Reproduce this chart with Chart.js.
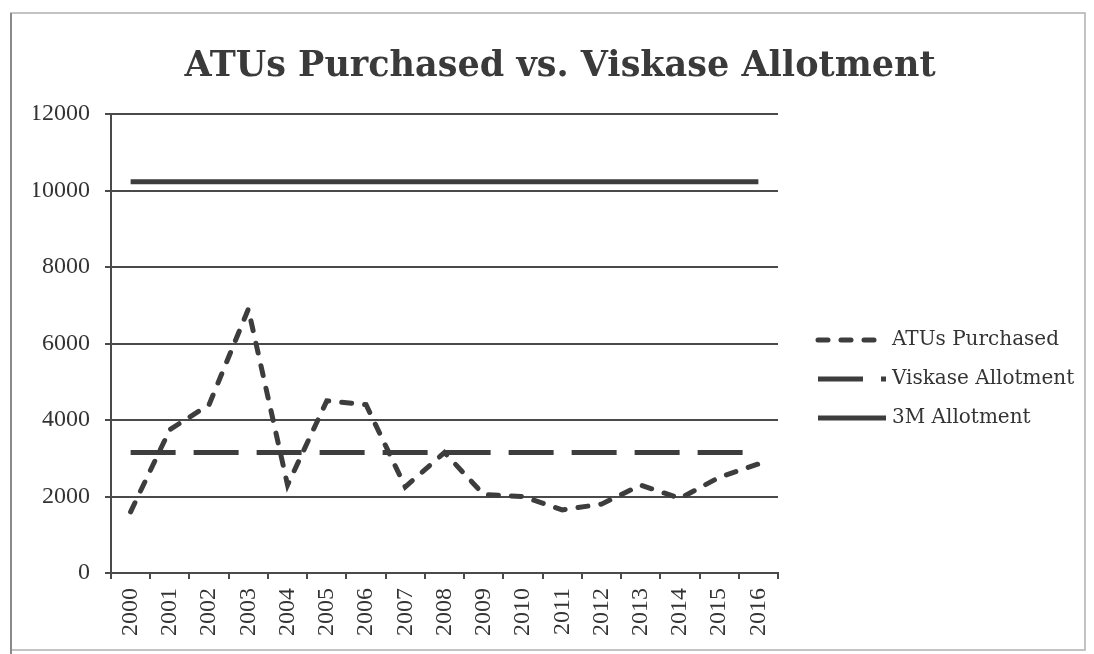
<!DOCTYPE html>
<html>
<head>
<meta charset="utf-8">
<script src="https://cdn.jsdelivr.net/npm/chart.js@4/dist/chart.umd.min.js"></script>
<style>
  html, body { margin: 0; padding: 0; background: #ffffff; }
  #wrap { width: 1094px; height: 654px; position: relative; }
</style>
</head>
<body>
<div id="wrap"><canvas id="c" width="1094" height="654"></canvas></div>
<script>
const years = ['2000','2001','2002','2003','2004','2005','2006','2007','2008','2009','2010','2011','2012','2013','2014','2015','2016'];
const atusPurchased = [1600, 3750, 4400, 6900, 2300, 4500, 4400, 2250, 3150, 2050, 2000, 1650, 1800, 2300, 1950, 2500, 2850];
const viskaseAllotment = [3150, 3150, 3150, 3150, 3150, 3150, 3150, 3150, 3150, 3150, 3150, 3150, 3150, 3150, 3150, 3150, 3150];
const mmmAllotment = [10230, 10230, 10230, 10230, 10230, 10230, 10230, 10230, 10230, 10230, 10230, 10230, 10230, 10230, 10230, 10230, 10230];
const yMin = 0, yMax = 12000, yStep = 2000;
const seriesNames = ['ATUs Purchased', 'Viskase Allotment', '3M Allotment'];
const chartTitle = 'ATUs Purchased vs. Viskase Allotment';

const INK = '#3d3d3d';
const GRID = '#4a4a4a';
const TICK_FONT = '"Liberation Serif", "Times New Roman", Times, serif';
const LEGEND_FONT = '"DejaVu Serif", serif';

const framePlugin = {
  id: 'frame',
  beforeDraw(chart) {
    const ctx = chart.ctx;
    ctx.save();
    ctx.fillStyle = '#ffffff';
    ctx.fillRect(0, 0, chart.width, chart.height);
    ctx.strokeStyle = '#b0b0b0';
    ctx.lineWidth = 1.5;
    ctx.strokeRect(11, 13, 1074, 637);
    ctx.strokeStyle = '#8a8a8a';
    ctx.lineWidth = 2;
    ctx.beginPath();
    ctx.moveTo(11, 13);
    ctx.lineTo(11, 654);
    ctx.stroke();
    ctx.restore();
  }
};

// Legend drawn from the datasets' own styles (built-in point-style legend drops dashes)
const sideLegend = {
  id: 'sideLegend',
  afterDraw(chart) {
    const ctx = chart.ctx;
    const x0 = 818, sampleW = 68, firstY = 340, step = 39;
    ctx.save();
    chart.data.datasets.forEach((ds, i) => {
      const y = firstY + i * step;
      ctx.strokeStyle = ds.borderColor;
      ctx.lineWidth = ds.borderWidth;
      ctx.lineCap = ds.borderCapStyle || 'butt';
      ctx.setLineDash(ds.borderDash || []);
      ctx.beginPath();
      ctx.moveTo(x0, y);
      ctx.lineTo(x0 + sampleW, y);
      ctx.stroke();
      ctx.setLineDash([]);
      ctx.fillStyle = '#333333';
      ctx.font = '20px ' + LEGEND_FONT;
      ctx.textBaseline = 'middle';
      ctx.textAlign = 'left';
      ctx.fillText(ds.label, x0 + sampleW + 6, y);
    });
    ctx.restore();
  }
};

new Chart(document.getElementById('c'), {
  type: 'line',
  data: {
    labels: years,
    datasets: [
      {
        label: seriesNames[0],
        data: atusPurchased,
        yAxisID: 'y',
        borderColor: INK,
        backgroundColor: INK,
        borderWidth: 5,
        borderDash: [10, 13],
        borderCapStyle: 'round',
        pointRadius: 0,
        tension: 0,
        fill: false
      },
      {
        label: seriesNames[1],
        data: viskaseAllotment,
        yAxisID: 'y',
        borderColor: INK,
        backgroundColor: INK,
        borderWidth: 5,
        borderDash: [45, 18],
        borderCapStyle: 'butt',
        pointRadius: 0,
        tension: 0,
        fill: false
      },
      {
        label: seriesNames[2],
        data: mmmAllotment,
        yAxisID: 'y',
        borderColor: INK,
        backgroundColor: INK,
        borderWidth: 5,
        borderCapStyle: 'butt',
        pointRadius: 0,
        tension: 0,
        fill: false
      }
    ]
  },
  options: {
    responsive: false,
    animation: false,
    devicePixelRatio: 1,
    layout: { padding: { left: 33.5, right: 7.5, top: 0, bottom: 0 } },
    plugins: {
      title: {
        display: true,
        text: chartTitle,
        color: '#3a3a3a',
        font: { family: '"DejaVu Serif", serif', size: 35, weight: 'bold' },
        padding: { top: 46, bottom: 26 }
      },
      legend: { display: false },
      tooltip: { enabled: false }
    },
    scales: {
      x: {
        type: 'category',
        offset: true,
        grid: {
          display: true,
          offset: true,
          drawOnChartArea: false,
          drawTicks: true,
          tickLength: 6,
          color: GRID,
          lineWidth: 2
        },
        border: { display: true, color: GRID, width: 2 },
        ticks: {
          color: '#333333',
          font: { family: TICK_FONT, size: 24 },
          minRotation: 90,
          maxRotation: 90,
          autoSkip: false,
          padding: 9
        },
        afterFit(scale) { scale.height = 81; }
      },
      y: {
        type: 'linear',
        position: 'left',
        min: yMin,
        max: yMax,
        grid: {
          display: true,
          drawTicks: true,
          tickLength: 6,
          color: GRID,
          lineWidth: 2
        },
        border: { display: true, color: GRID, width: 2 },
        ticks: {
          stepSize: yStep,
          color: '#333333',
          font: { family: TICK_FONT, size: 24 },
          padding: 15,
          callback: (v) => String(v)
        },
        afterFit(scale) { scale.width = 77.5; }
      },
      gap: {
        type: 'linear',
        position: 'right',
        display: true,
        grid: { display: false, drawTicks: false },
        border: { display: false },
        ticks: { display: false },
        afterFit(scale) { scale.width = 308.5; }
      }
    }
  },
  plugins: [framePlugin, sideLegend]
});
</script>
</body>
</html>
